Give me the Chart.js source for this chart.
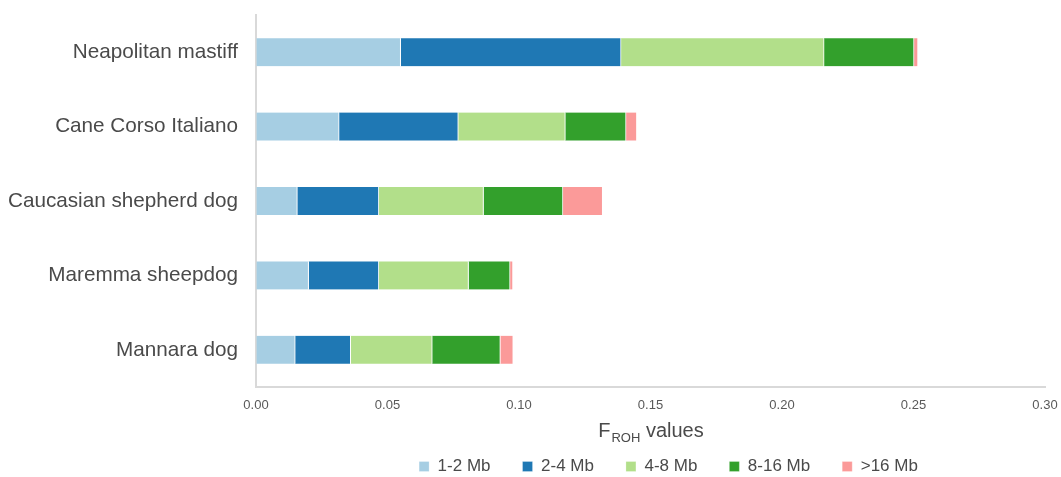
<!DOCTYPE html>
<html>
<head>
<meta charset="utf-8">
<script src="https://cdn.jsdelivr.net/npm/chart.js@4/dist/chart.umd.min.js"></script>
<style>
  html, body { margin: 0; padding: 0; background: #fff; }
  #wrap { width: 1061px; height: 477px; }
</style>
</head>
<body>
<div id="wrap"><canvas id="chart" width="1061" height="477"></canvas></div>
<script>
const breeds = ['Neapolitan mastiff', 'Cane Corso Italiano', 'Caucasian shepherd dog', 'Maremma sheepdog', 'Mannara dog'];
const classes = ['1-2 Mb', '2-4 Mb', '4-8 Mb', '8-16 Mb', '>16 Mb'];
const classColors = ['#a6cee3', '#1f78b4', '#b2df8a', '#33a02c', '#fb9a99'];

// FROH per ROH length class, one array per class (order follows breeds)
const froh1to2 = [0.0550, 0.0316, 0.0157, 0.0200, 0.0149];
const froh2to4 = [0.0838, 0.0453, 0.0310, 0.0267, 0.0211];
const froh4to8 = [0.0772, 0.0407, 0.0398, 0.0341, 0.0310];
const froh8to16 = [0.0342, 0.0231, 0.0302, 0.0158, 0.0259];
const froh16plus = [0.0015, 0.0041, 0.0151, 0.0011, 0.0049];

const xTicks = [0, 0.05, 0.10, 0.15, 0.20, 0.25, 0.30];

const FONT = "'Liberation Sans', Arial, sans-serif";
const TEXT = '#4a4a4a';
const AXIS = '#d9d9d9';

const series = [froh1to2, froh2to4, froh4to8, froh8to16, froh16plus];

// x axis title has a subscript, so it is drawn by hand
const axisTitle = {
  id: 'axisTitle',
  afterLayout(chart) {
    // legend sits a little right of the plot centre in the original
    chart.legend.left += 18;
    chart.legend.right += 18;
  },
  afterDraw(chart) {
    const { ctx, chartArea } = chart;
    const big = '20px ' + FONT, small = '13px ' + FONT;
    ctx.save();
    ctx.fillStyle = TEXT;
    ctx.textBaseline = 'alphabetic';
    ctx.font = big;
    const wF = ctx.measureText('F').width;
    const wV = ctx.measureText(' values').width;
    ctx.font = small;
    const wR = ctx.measureText('ROH').width;
    let x = (chartArea.left + chartArea.right) / 2 - (wF + wR + wV) / 2;
    const y = chartArea.bottom + 50;
    ctx.textAlign = 'left';
    ctx.font = big;
    ctx.fillText('F', x, y);
    x += wF + 1;
    ctx.font = small;
    ctx.fillText('ROH', x, y + 5);
    x += wR;
    ctx.font = big;
    ctx.fillText(' values', x, y);
    ctx.restore();
  }
};

new Chart(document.getElementById('chart'), {
  type: 'bar',
  data: {
    labels: breeds,
    datasets: classes.map((c, i) => ({
      label: c,
      data: series[i],
      backgroundColor: classColors[i],
      borderColor: '#ffffff',
      borderWidth: { top: 0, bottom: 0, left: 0, right: 1 },
      borderSkipped: false,
      barThickness: 28
    }))
  },
  options: {
    indexAxis: 'y',
    responsive: false,
    animation: false,
    layout: { padding: { top: 15, right: 16, left: 0, bottom: 0 } },
    plugins: {
      tooltip: { enabled: false },
      legend: {
        position: 'bottom',
        fullSize: false,
        maxHeight: 51,
        labels: {
          boxWidth: 10,
          boxHeight: 10,
          padding: 32,
          color: TEXT,
          font: { family: FONT, size: 17 }
        }
      }
    },
    scales: {
      x: {
        stacked: true,
        min: 0,
        max: 0.3,
        afterBuildTicks: s => { s.ticks = xTicks.map(v => ({ value: v })); },
        afterFit: s => { s.height = 39; s.paddingLeft = 0; s.paddingRight = 0; },
        grid: { drawOnChartArea: false, drawTicks: false },
        border: { color: AXIS, width: 2 },
        ticks: {
          padding: 11,
          color: '#595959',
          font: { family: FONT, size: 13 },
          callback: v => v.toFixed(2)
        }
      },
      y: {
        stacked: true,
        afterFit: s => { s.width = 256; s.paddingTop = 0; s.paddingBottom = 0; },
        grid: { drawOnChartArea: false, drawTicks: false },
        border: { color: AXIS, width: 2 },
        ticks: {
          padding: 18,
          color: TEXT,
          font: { family: FONT, size: 20.7 }
        }
      }
    }
  },
  plugins: [axisTitle]
});
</script>
</body>
</html>
